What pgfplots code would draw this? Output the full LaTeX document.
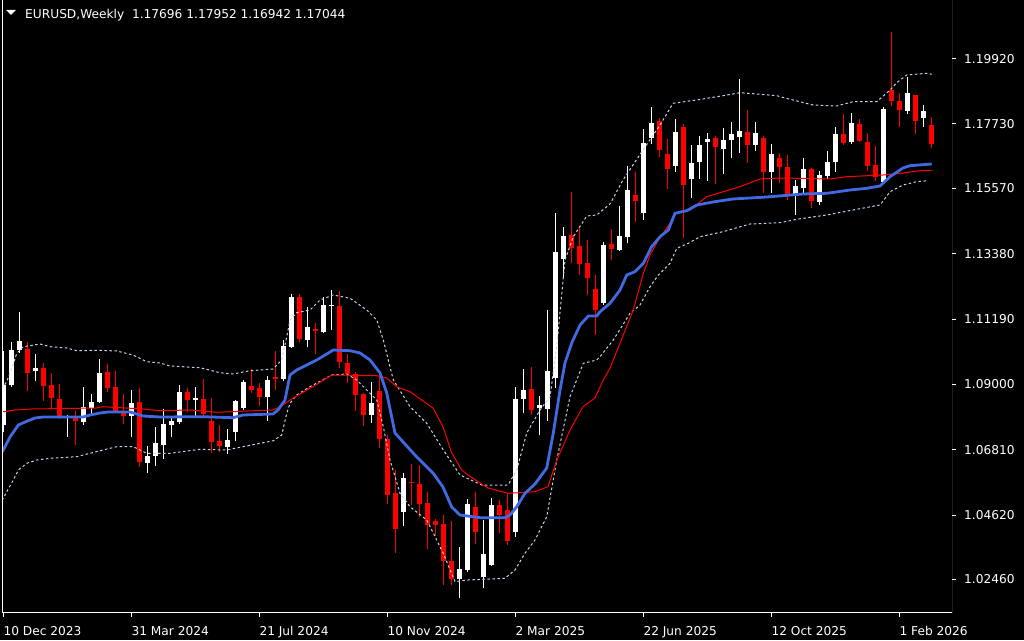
\documentclass[border=0pt]{standalone}
\usepackage{pgfplots}
\pgfplotsset{compat=1.18}
\usepackage{pgfplotstable}
\usepackage{fontspec}
\setmainfont{DejaVu Sans}
\definecolor{bandc}{RGB}{196,212,236}
\definecolor{bluec}{RGB}{65,105,225}
\definecolor{redc}{RGB}{255,0,0}

% weekly EURUSD candles: k = week index (0 = 10 Dec 2023)
\pgfplotstableread{
k o h l c
0 1.07638 1.10119 1.07403 1.08979
1 1.08979 1.10421 1.08922 1.10152
2 1.10152 1.11417 1.10062 1.10454
4 1.09448 1.10018 1.09113 1.09549
8 1.07862 1.07973 1.07245 1.07930
10 1.07738 1.08912 1.07648 1.08241
11 1.08208 1.08677 1.08007 1.08409
12 1.08409 1.09851 1.08375 1.09381
16 1.07940 1.08811 1.07235 1.08375
18 1.06364 1.06934 1.06028 1.06598
19 1.06598 1.07571 1.06263 1.07034
20 1.06967 1.08174 1.06498 1.07671
21 1.07638 1.07872 1.07235 1.07772
22 1.07738 1.08979 1.07671 1.08744
24 1.08476 1.08912 1.07940 1.08543
28 1.06900 1.07504 1.06665 1.07135
29 1.07403 1.08476 1.07101 1.08443
30 1.08208 1.09147 1.08141 1.09080
33 1.08577 1.09281 1.07772 1.09147
35 1.09180 1.10488 1.09113 1.10287
36 1.10253 1.12030 1.10220 1.11930
38 1.10488 1.11594 1.10253 1.10924
40 1.10746 1.11940 1.10713 1.11661
41 1.11638 1.12164 1.10823 1.11671
46 1.07973 1.09080 1.07695 1.08375
50 1.04721 1.06038 1.04251 1.05861
57 1.02474 1.03557 1.01837 1.02809
58 1.02776 1.05157 1.02699 1.04989
60 1.02541 1.04452 1.02162 1.03312
61 1.02944 1.05180 1.02910 1.04955
64 1.04060 1.08902 1.03892 1.08510
65 1.08510 1.09515 1.08040 1.08811
67 1.08208 1.08610 1.07302 1.08308
68 1.08174 1.11494 1.07782 1.09448
69 1.09214 1.14736 1.08888 1.13438
70 1.13204 1.14267 1.12590 1.13975
75 1.11728 1.13764 1.11661 1.13673
77 1.13506 1.14981 1.13472 1.13975
78 1.13951 1.16322 1.13730 1.15517
80 1.14756 1.17563 1.14511 1.17093
81 1.17261 1.18300 1.17060 1.17764
84 1.16322 1.17898 1.16121 1.17462
86 1.15886 1.17026 1.15249 1.16423
87 1.16456 1.17328 1.15886 1.17026
88 1.17127 1.17439 1.15819 1.17227
90 1.16892 1.17596 1.16054 1.17194
91 1.17194 1.17797 1.16590 1.17395
92 1.17294 1.19239 1.16758 1.17496
94 1.17026 1.17797 1.16825 1.17429
96 1.16121 1.17060 1.15417 1.16724
99 1.15350 1.15853 1.14679 1.15651
100 1.15584 1.16590 1.15383 1.16221
102 1.15115 1.16154 1.15014 1.16020
103 1.15987 1.16825 1.15886 1.16456
104 1.16456 1.17630 1.16121 1.17395
106 1.17127 1.18099 1.17060 1.17764
110 1.15786 1.18300 1.15752 1.18233
113 1.18166 1.19306 1.18066 1.18770
115 1.17931 1.18367 1.17630 1.18166
}\bull

\pgfplotstableread{
k o h l c
3 1.10186 1.10421 1.08788 1.09381
5 1.09549 1.09717 1.08453 1.08945
6 1.08979 1.09381 1.08174 1.08543
7 1.08510 1.09013 1.07829 1.07940
9 1.07872 1.08107 1.06977 1.07772
13 1.09415 1.09683 1.08744 1.08878
14 1.08912 1.09448 1.08040 1.08107
15 1.08074 1.08677 1.07671 1.07940
17 1.08409 1.08878 1.06230 1.06397
23 1.08744 1.08878 1.08074 1.08476
25 1.08510 1.09180 1.07940 1.08007
26 1.07772 1.08543 1.06699 1.07068
27 1.07101 1.07638 1.06732 1.06934
31 1.08945 1.09515 1.08711 1.08811
32 1.08878 1.09046 1.08275 1.08577
34 1.09247 1.10119 1.08811 1.09180
37 1.11930 1.12030 1.10421 1.10521
39 1.10857 1.11068 1.10028 1.10800
42 1.11628 1.12131 1.09539 1.09760
43 1.09717 1.10018 1.09036 1.09348
44 1.09348 1.09425 1.08117 1.08644
45 1.08677 1.08701 1.07614 1.07973
47 1.08778 1.09281 1.06857 1.07168
48 1.07168 1.07302 1.04989 1.05291
49 1.05358 1.06129 1.03356 1.04151
51 1.05717 1.06330 1.04955 1.05683
52 1.05660 1.06297 1.04563 1.04989
53 1.05022 1.05391 1.03470 1.04285
54 1.04429 1.04486 1.03916 1.04285
55 1.04328 1.04620 1.02273 1.03078
56 1.03078 1.04419 1.02263 1.02474
59 1.04888 1.05391 1.03648 1.04050
62 1.04955 1.05123 1.04027 1.04620
63 1.04788 1.05348 1.03614 1.03748
66 1.08845 1.09583 1.07973 1.08141
71 1.14008 1.15450 1.13060 1.13583
72 1.13640 1.14267 1.12657 1.13036
73 1.13070 1.13841 1.11987 1.12567
74 1.12198 1.12667 1.10655 1.11494
76 1.13707 1.14210 1.13170 1.13539
79 1.15350 1.16121 1.14454 1.15149
82 1.17831 1.17931 1.16624 1.16858
83 1.16724 1.17227 1.15551 1.16221
85 1.17630 1.17730 1.13918 1.15685
89 1.17261 1.17311 1.15719 1.16959
93 1.17462 1.18200 1.16423 1.17026
95 1.17261 1.17328 1.15417 1.16121
97 1.16590 1.16758 1.15752 1.16289
98 1.16289 1.16691 1.15182 1.15350
101 1.16221 1.16255 1.14914 1.15149
105 1.17395 1.18066 1.17026 1.17093
107 1.17730 1.17898 1.17127 1.17160
108 1.17127 1.17429 1.16154 1.16322
109 1.16356 1.16993 1.15819 1.15953
111 1.18870 1.20815 1.18334 1.18502
112 1.18502 1.18770 1.17630 1.18200
114 1.18703 1.18719 1.17395 1.17831
116 1.17696 1.17952 1.16942 1.17044
}\bear

\begin{document}
\begin{tikzpicture}[x=1pt,y=1pt]
\fill[black] (0,0) rectangle (1024,640);
\begin{axis}[
  at={(2pt,27.5pt)}, anchor=south west,
  width=950pt, height=612pt, scale only axis,
  xmin=-0.1625, xmax=118.5875, ymin=1.01351, ymax=1.21871,
  axis background/.style={fill=black},
  axis line style={draw=none},
  xtick={0,16,32,48,64,80,96,112},
  xticklabels={10 Dec 2023,31 Mar 2024,21 Jul 2024,10 Nov 2024,2 Mar 2025,22 Jun 2025,12 Oct 2025,1 Feb 2026},
  ytick={1.02460,1.04620,1.06810,1.09000,1.11190,1.13380,1.15570,1.17730,1.19920},
  yticklabels={1.02460,1.04620,1.06810,1.09000,1.11190,1.13380,1.15570,1.17730,1.19920},
  xtick pos=left, ytick pos=right,
  xticklabel pos=left, yticklabel pos=right,
  tick align=outside, major tick length=4pt,
  tick style={white, line width=1pt},
  ticklabel style={text=white, font=\fontsize{12.2}{14}\selectfont},
  xticklabel style={anchor=north west, inner sep=0pt, yshift=-9.5pt},
  yticklabel style={anchor=west, inner sep=0pt, xshift=8pt},
  clip=true,
  candle/.style={only marks, mark=*, mark size=0pt, mark options={draw=none, fill=none}, forget plot},
]
% wicks
\addplot[white, candle,
  error bars/.cd, y dir=plus, y explicit, error mark=none,
  error bar style={draw=white, line width=1pt}]
  table[x=k, y=l, y error plus expr={\thisrow{h}-\thisrow{l}}] {\bull};
\addplot[redc, candle,
  error bars/.cd, y dir=plus, y explicit, error mark=none,
  error bar style={draw=redc, line width=1pt}]
  table[x=k, y=l, y error plus expr={\thisrow{h}-\thisrow{l}}] {\bear};
% bodies
\addplot[white, candle,
  error bars/.cd, y dir=plus, y explicit, error mark=none,
  error bar style={draw=white, line width=5pt}]
  table[x=k, y expr={min(\thisrow{o},\thisrow{c})}, y error plus expr={max(abs(\thisrow{c}-\thisrow{o}),0.0003)}] {\bull};
\addplot[redc, candle,
  error bars/.cd, y dir=plus, y explicit, error mark=none,
  error bar style={draw=redc, line width=5pt}]
  table[x=k, y expr={min(\thisrow{o},\thisrow{c})}, y error plus expr={max(abs(\thisrow{c}-\thisrow{o}),0.0003)}] {\bear};

% upper band
\addplot[bandc, line width=1pt, dash pattern=on 2.5pt off 2.5pt] coordinates {
(-0.2,1.08860) (0,1.08922) (0.43,1.09090) (1.05,1.09539) (1.68,1.10042) (2.5,1.10263) (4.59,1.10354) (5.84,1.10263) (7.93,1.10220) (9.18,1.10129) (12.09,1.10142) (14.18,1.10119) (16.21,1.09985) (17.93,1.09760) (19.59,1.09717) (20.84,1.09616) (24.59,1.09559) (27.09,1.09391) (28.71,1.09348) (30.84,1.09458) (33.71,1.09515) (34.8,1.09817) (35.43,1.10598) (35.84,1.11158) (36.68,1.11403) (38.34,1.11494) (39.59,1.11829) (41.25,1.11997) (43.34,1.11886) (45.43,1.11494) (46.68,1.11158) (47.5,1.10488) (48.75,1.09147) (50.84,1.08251) (52.93,1.07695) (55.0,1.06800) (57.09,1.05961) (59.8,1.05626) (63.09,1.05626) (64.18,1.06129) (65.43,1.07369) (67.09,1.08141) (68.34,1.08587) (69.18,1.10263) (70.21,1.13170) (71.25,1.13951) (72.93,1.14646) (74.18,1.14679) (75.84,1.15048) (77.46,1.15853) (79.96,1.16858) (82.09,1.17697) (83.71,1.18424) (86.68,1.18535) (89.96,1.18679) (92.09,1.18780) (94.18,1.18736) (96.68,1.18679) (98.34,1.18559) (101.21,1.18367) (104.18,1.18334) (106.21,1.18478) (109.18,1.18478) (110.84,1.18870) (111.68,1.19115) (112.93,1.19373) (115.43,1.19430) (116.05,1.19397)};
% lower band
\addplot[bandc, line width=1pt, dash pattern=on 2.5pt off 2.5pt] coordinates {
(-0.2,1.05120) (0,1.05180) (0.43,1.05401) (1.25,1.05794) (1.88,1.06129) (2.93,1.06353) (4.18,1.06464) (5.84,1.06521) (9.18,1.06575) (12.09,1.06776) (14.18,1.06910) (16.25,1.06910) (17.93,1.06689) (20.84,1.06689) (24.59,1.06823) (27.93,1.06800) (29.59,1.06890) (33.75,1.07111) (34.8,1.07302) (35.43,1.08030) (35.84,1.08365) (36.68,1.08644) (38.34,1.08922) (41.05,1.09314) (42.93,1.09348) (44.18,1.09147) (45.43,1.08811) (46.68,1.08476) (47.5,1.07581) (48.34,1.06464) (49.59,1.05348) (50.84,1.04898) (52.93,1.04452) (55.0,1.03336) (56.46,1.02384) (58.09,1.02441) (62.71,1.02498) (63.96,1.02776) (65.21,1.03336) (66.46,1.03782) (67.93,1.04563) (69.18,1.06464) (70.84,1.08587) (72.5,1.09707) (74.18,1.09817) (74.59,1.09928) (76.25,1.10488) (78.34,1.11383) (79.59,1.11661) (80.84,1.12275) (81.88,1.12667) (83.34,1.13060) (84.18,1.13562) (85.63,1.13730) (87.09,1.13951) (89.96,1.14119) (93.34,1.14377) (97.09,1.14421) (99.18,1.14535) (102.93,1.14679) (106.21,1.14847) (109.59,1.15014) (110.84,1.15460) (112.46,1.15685) (114.18,1.15796) (115.59,1.15829)};
% red line
\addplot[redc, line width=1pt] coordinates {
(-0.2,1.08083) (0,1.08083) (1.46,1.08141) (3.55,1.08174) (11.68,1.08208) (12.46,1.08251) (17.46,1.08174) (19.59,1.08117) (23.34,1.08141) (26.68,1.08064) (33.71,1.08141) (34.59,1.08251) (35.84,1.08476) (38.34,1.08878) (38.71,1.08922) (41.05,1.09314) (46.68,1.09291) (47.93,1.09214) (49.18,1.08922) (50.84,1.08754) (53.71,1.08208) (54.96,1.07581) (56.05,1.06699) (57.3,1.06129) (58.09,1.05961) (59.59,1.05693) (60.59,1.05525) (63.09,1.05348) (66.46,1.05401) (68.09,1.05569) (69.18,1.06464) (70.84,1.07470) (72.46,1.08251) (73.96,1.08543) (75.0,1.09147) (75.84,1.09549) (77.08,1.10377) (78.75,1.11494) (80.0,1.12724) (80.84,1.13338) (81.88,1.13841) (83.34,1.14401) (83.96,1.14736) (85.84,1.14847) (87.93,1.15293) (92.09,1.15628) (94.59,1.15886) (97.09,1.15920) (103.34,1.15886) (105.43,1.15963) (109.96,1.16020) (112.46,1.16087) (114.59,1.16164) (116.05,1.16164)};
% blue line
\addplot[bluec, line width=2.8pt] coordinates {
(-0.2,1.06732) (0,1.06800) (0.84,1.07235) (1.88,1.07638) (2.92,1.07761) (3.96,1.07872) (5.0,1.07906) (9.96,1.07906) (10.84,1.07973) (12.09,1.08040) (13.09,1.08074) (15.84,1.08074) (17.46,1.07940) (19.59,1.07906) (24.96,1.07916) (28.71,1.07882) (29.96,1.07973) (33.71,1.08007) (34.34,1.08141) (35.21,1.08476) (35.84,1.09314) (36.68,1.09482) (37.93,1.09650) (39.18,1.09817) (41.25,1.10152) (43.34,1.10129) (44.59,1.10052) (45.84,1.09817) (47.09,1.09381) (47.93,1.08711) (48.96,1.07369) (51.68,1.06565) (53.71,1.06028) (54.96,1.05559) (56.05,1.04888) (57.09,1.04620) (59.59,1.04530) (62.71,1.04530) (63.34,1.04620) (64.18,1.04898) (65.21,1.05348) (66.46,1.05660) (67.93,1.06196) (68.75,1.07369) (69.59,1.08811) (70.21,1.09717) (71.05,1.10387) (72.09,1.10991) (73.13,1.11293) (74.18,1.11293) (74.59,1.11437) (75.84,1.11718) (77.09,1.12164) (77.93,1.12667) (78.96,1.12778) (80.0,1.13060) (81.05,1.13616) (82.09,1.13951) (83.13,1.14176) (83.96,1.14736) (85.43,1.14823) (86.71,1.15014) (88.71,1.15115) (91.21,1.15216) (95.46,1.15283) (99.96,1.15383) (102.96,1.15407) (105.84,1.15517) (107.93,1.15574) (109.59,1.15651) (110.84,1.15963) (112.46,1.16255) (113.34,1.16332) (116.05,1.16389)};

% chart frame (left, bottom, right)
\draw[white, line width=1pt] (rel axis cs:0,1) -- (rel axis cs:0,0) -- (rel axis cs:1,0) -- (rel axis cs:1,1);
\node[fill=white, text=black, anchor=west, inner xsep=6pt, inner ysep=4pt,
  font=\fontsize{12.2}{14}\selectfont]
  at ({rel axis cs:1,0}|-{axis cs:0,1.17044}) [xshift=2pt] {1.17044};
\end{axis}
\fill[white] (6,630) -- (16,630) -- (11,625) -- cycle;
\node[anchor=base west, text=white, inner sep=0pt, font=\fontsize{12.2}{14}\selectfont]
  at (25,621.7) {EURUSD,Weekly\ \ 1.17696 1.17952 1.16942 1.17044};
\pgfresetboundingbox
\useasboundingbox (0,0) rectangle (1024,640);
\end{tikzpicture}
\end{document}
